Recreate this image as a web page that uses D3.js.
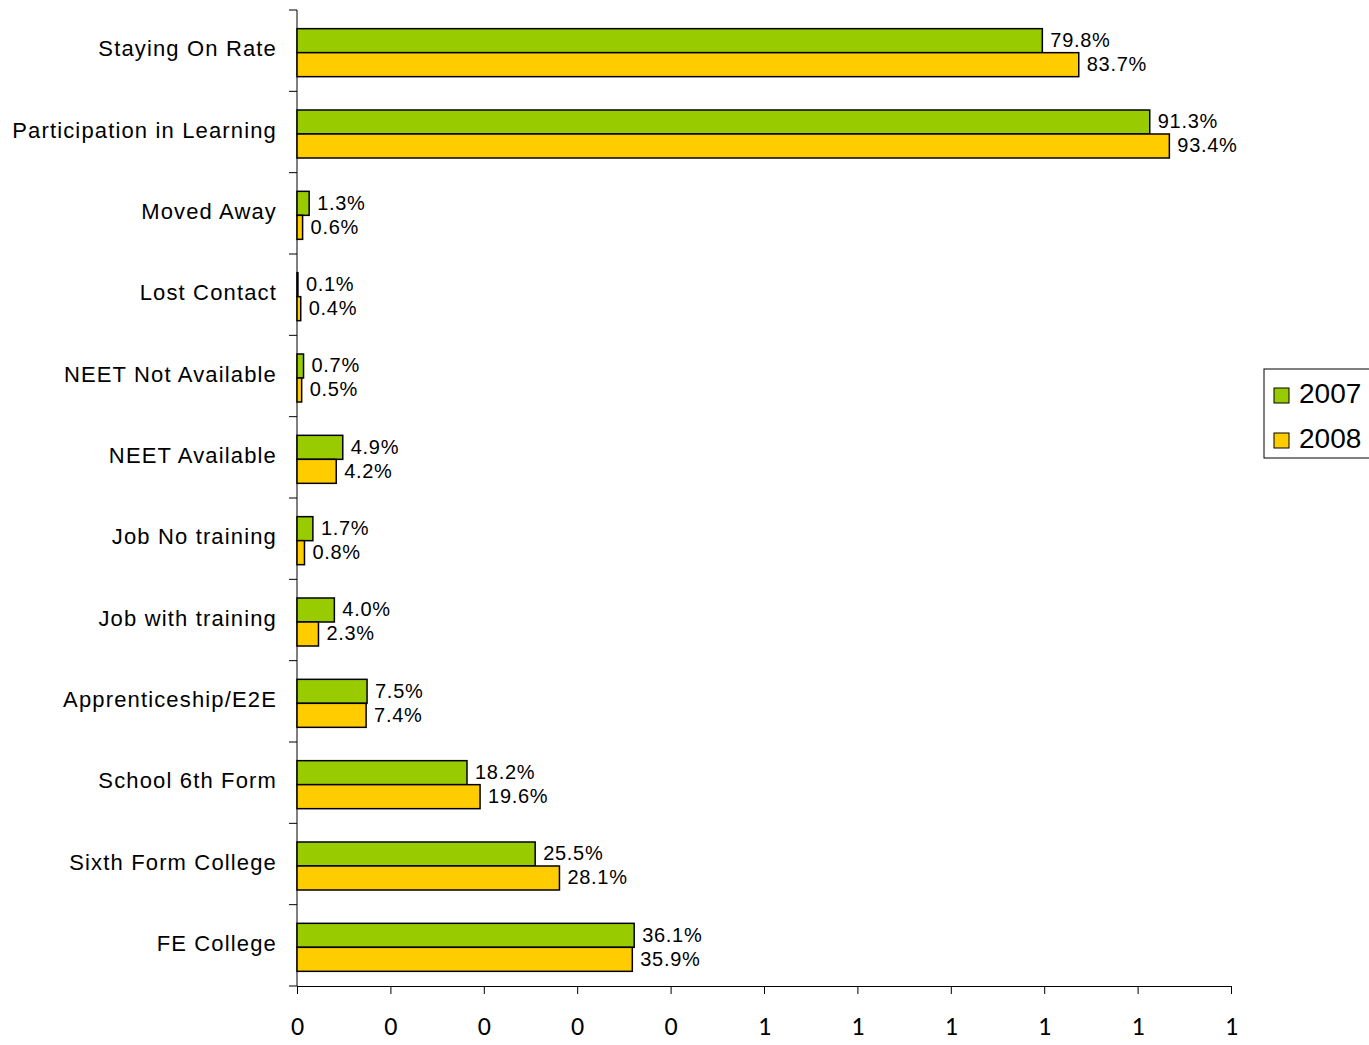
<!DOCTYPE html>
<html>
<head>
<meta charset="utf-8">
<script src="https://cdn.jsdelivr.net/npm/d3@7"></script>
<style>
  body { margin: 0; background: #fff; }
  svg text { font-family: "Liberation Sans", Arial, sans-serif; fill: #000; }
  .domain, .tick line { stroke: #000; stroke-width: 1; }
</style>
</head>
<body>
<div id="chart"></div>
<script>
// Categories, top to bottom
const categories = [
    "Staying On Rate", "Participation in Learning", "Moved Away", "Lost Contact",
    "NEET Not Available", "NEET Available", "Job No training", "Job with training",
    "Apprenticeship/E2E", "School 6th Form", "Sixth Form College", "FE College"
];
const seriesNames = ["2007", "2008"];
const values2007 = [79.8, 91.3, 1.3, 0.1, 0.7, 4.9, 1.7, 4.0, 7.5, 18.2, 25.5, 36.1];
const values2008 = [83.7, 93.4, 0.6, 0.4, 0.5, 4.2, 0.8, 2.3, 7.4, 19.6, 28.1, 35.9];
const xTickValues = [0, 0.1, 0.2, 0.3, 0.4, 0.5, 0.6, 0.7, 0.8, 0.9, 1.0];
const xTickLabels = ["0", "0", "0", "0", "0", "1", "1", "1", "1", "1", "1"];

const colors = { "2007": "#99cc00", "2008": "#ffcc00" };

const width = 1369, height = 1045;
const plot = { left: 297, right: 1231, top: 10, bottom: 986 };

const svg = d3.select("#chart").append("svg")
    .attr("width", width)
    .attr("height", height);

const x = d3.scaleLinear().domain([0, 1]).range([plot.left, plot.right]);
const y = d3.scaleBand().domain(categories).range([plot.top, plot.bottom]).paddingInner(0).paddingOuter(0);
const barH = 24;

// Y axis with tick marks at band boundaries
svg.append("line")
    .attr("x1", plot.left).attr("x2", plot.left)
    .attr("y1", plot.top).attr("y2", plot.bottom)
    .attr("stroke", "#000");
const bounds = categories.map(c => y(c)).concat([plot.bottom]);
svg.selectAll(".ytick").data(bounds).enter().append("line")
    .attr("x1", plot.left - 8).attr("x2", plot.left)
    .attr("y1", d => d).attr("y2", d => d)
    .attr("stroke", "#000");

// Category labels
svg.selectAll(".cat").data(categories).enter().append("text")
    .attr("x", 277)
    .attr("y", d => y(d) + y.bandwidth() / 2)
    .attr("text-anchor", "end")
    .attr("dominant-baseline", "middle")
    .style("font-size", "22px")
    .style("letter-spacing", "1.15px")
    .text(d => d);

// X axis
const xAxis = d3.axisBottom(x)
    .tickValues(xTickValues)
    .tickFormat((d, i) => xTickLabels[i])
    .tickSize(8)
    .tickPadding(23);
const gx = svg.append("g")
    .attr("transform", `translate(0,${plot.bottom})`)
    .call(xAxis);
gx.selectAll("text")
    .style("font-size", "26px")
    .style("font-family", "Carlito, 'Open Sans', sans-serif");

// Bars
const series = [
    { name: "2007", values: values2007, offset: 0 },
    { name: "2008", values: values2008, offset: 1 }
];
series.forEach(s => {
    const g = svg.append("g");
    const top = c => y(c) + (y.bandwidth() - 2 * barH) / 2 + 2 + s.offset * barH;
    g.selectAll("rect").data(categories).enter().append("rect")
        .attr("x", x(0))
        .attr("y", c => top(c))
        .attr("width", (c, i) => x(s.values[i] / 100) - x(0))
        .attr("height", barH)
        .attr("fill", colors[s.name])
        .attr("stroke", "#000")
        .attr("stroke-width", 1.5);
    g.selectAll("text").data(categories).enter().append("text")
        .attr("x", (c, i) => x(s.values[i] / 100) + 8)
        .attr("y", c => top(c) + barH / 2 + 1)
        .attr("dominant-baseline", "middle")
        .style("font-size", "20px")
        .style("letter-spacing", "0.7px")
        .text((c, i) => s.values[i].toFixed(1) + "%");
});

// Legend
const legend = svg.append("g").attr("transform", "translate(1264,369)");
legend.append("rect")
    .attr("width", 110).attr("height", 89)
    .attr("fill", "#fff").attr("stroke", "#000");
seriesNames.forEach((n, i) => {
    legend.append("rect")
        .attr("x", 10).attr("y", 19 + i * 45)
        .attr("width", 15).attr("height", 15)
        .attr("fill", colors[n]).attr("stroke", "#000");
    legend.append("text")
        .attr("x", 35).attr("y", 27 + i * 45)
        .attr("dominant-baseline", "middle")
        .style("font-size", "28px")
        .text(n);
});
</script>
</body>
</html>
